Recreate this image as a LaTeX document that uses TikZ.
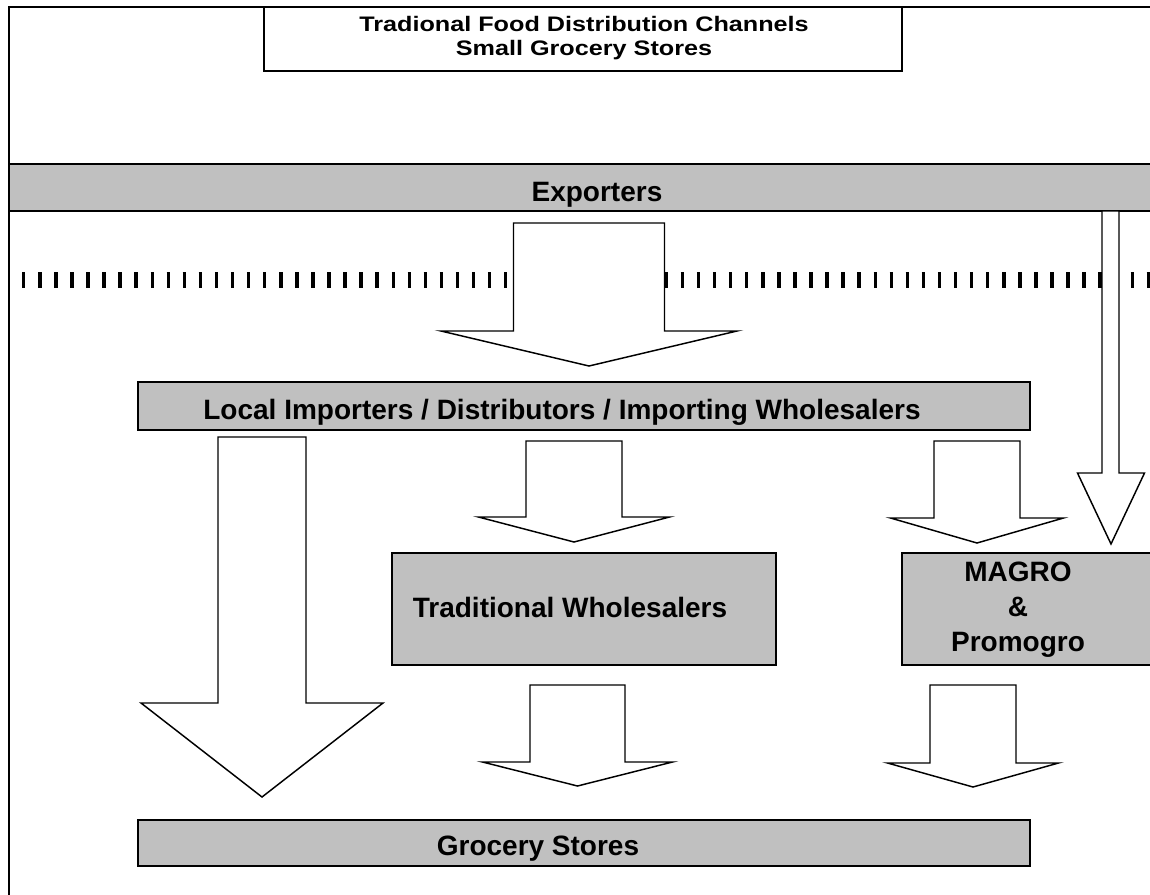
\documentclass[tikz,border=0pt]{standalone}
\usepackage{fontspec}
\setmainfont{Liberation Sans}
\newfontfamily\titlefont[FakeStretch=1.2]{Liberation Sans}
\usetikzlibrary{calc}

\definecolor{bandgray}{HTML}{C0C0C0}

% block arrow: start, tip, half shaft width, half head width, head length (px)
\newcommand{\blockarrow}[5]{%
  \coordinate (ba-l) at ($(#1)+(-#3,0)$);
  \coordinate (ba-r) at ($(#1)+(#3,0)$);
  \coordinate (ba-hl) at ($(#2)+(-#4,-#5)$);
  \coordinate (ba-hr) at ($(#2)+(#4,-#5)$);
  \filldraw[arrowline] (ba-l) -- (ba-r) -- (ba-r |- ba-hr) -- (ba-hr) -- (#2)
    -- (ba-hl) -- (ba-l |- ba-hl) -- cycle;
}

\begin{document}
\begin{tikzpicture}[
  x=0.75pt, y=-0.75pt,
  frameline/.style = {draw=black, line width=1.1pt},
  band/.style = {draw=black, line width=1.5pt, fill=bandgray, inner sep=0pt},
  titlebox/.style = {draw=black, line width=1.4pt, fill=white, inner sep=0pt},
  bandtext/.style = {font=\fontsize{21}{26}\selectfont\bfseries, anchor=base, inner sep=0pt},
  arrowline/.style = {draw=black, line width=1.1pt, fill=white, line join=miter},
  ticks/.style = {line width=12pt, dash pattern=on 2.6pt off 9.45pt}
]
  \useasboundingbox (0,0) rectangle (1150,894);
  \clip (0,0) rectangle (1150,894);

  % frame
  \coordinate (frame-bl) at (9,900);
  \coordinate (frame-tr) at (1160,7);
  \draw[frameline] (frame-bl) |- (frame-tr);

  % title
  \node[titlebox, minimum width=478.5pt, minimum height=48pt] (title) at (583,39) {};
  \node[font=\titlefont\fontsize{15.75}{18}\selectfont\bfseries, align=center, inner sep=0pt]
    (title-txt) at (584,38) {Tradional Food Distribution Channels\\Small Grocery Stores};

  % ======================================================
  % bands and boxes
  % ======================================================
  \node[band, minimum width=863.25pt, minimum height=35.25pt] (exporters) at (584.5,187.5) {};
  \node[bandtext] (exporters-txt) at (597,201) {Exporters};

  % ticks behind the arrows
  \coordinate (ticks-start) at (22,280);
  \coordinate (ticks-end) at (1160,280);
  \draw[ticks] (ticks-start) -- (ticks-end);

  \node[band, minimum width=669pt, minimum height=36pt] (local) at (584,406) {};
  \node[bandtext] (local-txt) at (562,419) {Local Importers / Distributors / Importing Wholesalers};

  \node[band, minimum width=288pt, minimum height=84pt] (trad) at (584,609) {};
  \node[bandtext] (trad-txt) at (570,617) {Traditional Wholesalers};

  \node[band, minimum width=193.5pt, minimum height=84pt] (magro) at (1031,609) {};
  \node[font=\fontsize{21}{26.25}\selectfont\bfseries, align=center, inner sep=0pt]
    (magro-txt) at (1018,610) {MAGRO\\\&\\Promogro};

  \node[band, minimum width=669pt, minimum height=34.5pt] (grocery) at (584,843) {};
  \node[bandtext] (grocery-txt) at (538,855) {Grocery Stores};

  % ======================================================
  % block arrows
  % ======================================================
  \coordinate (exp-local-s) at (589,223);
  \coordinate (exp-local-t) at (589,366);
  \blockarrow{exp-local-s}{exp-local-t}{75.5}{148}{35}

  \coordinate (exp-magro-s) at (1110.5,211);
  \coordinate (exp-magro-t) at (1111,544);
  \blockarrow{exp-magro-s}{exp-magro-t}{8.5}{33.5}{71}

  \coordinate (local-groc-s) at (262,437);
  \coordinate (local-groc-t) at (262,797);
  \blockarrow{local-groc-s}{local-groc-t}{44}{121}{94}

  \coordinate (local-trad-s) at (574,441);
  \coordinate (local-trad-t) at (574,542);
  \blockarrow{local-trad-s}{local-trad-t}{48}{95.5}{25}

  \coordinate (local-magro-s) at (977,441);
  \coordinate (local-magro-t) at (977,543);
  \blockarrow{local-magro-s}{local-magro-t}{43}{86.5}{25}

  \coordinate (trad-groc-s) at (577.5,685);
  \coordinate (trad-groc-t) at (577.5,786);
  \blockarrow{trad-groc-s}{trad-groc-t}{47.5}{95}{24}

  \coordinate (magro-groc-s) at (973,685);
  \coordinate (magro-groc-t) at (973,787);
  \blockarrow{magro-groc-s}{magro-groc-t}{43}{85.5}{24}

\end{tikzpicture}
\end{document}
